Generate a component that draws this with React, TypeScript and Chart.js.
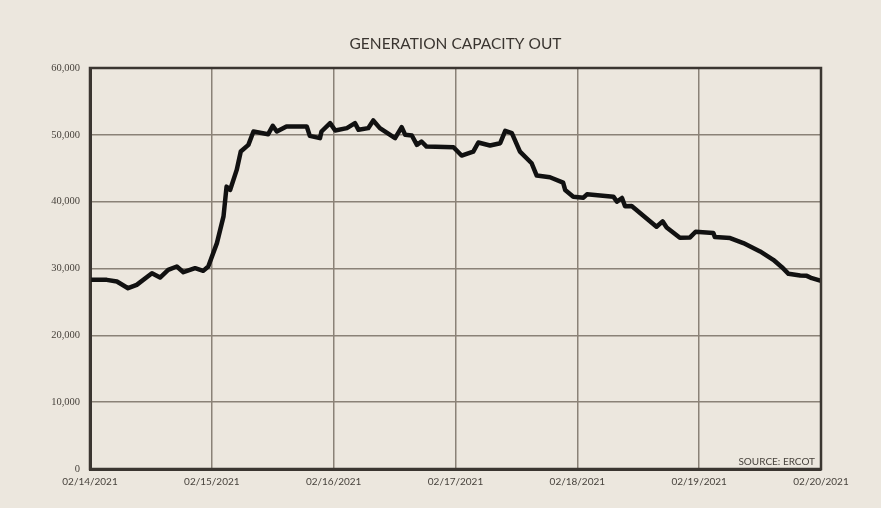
import React, { useEffect, useRef } from "react";
import { Chart, registerables } from "chart.js";

Chart.register(...registerables);

const chartTitle = "GENERATION CAPACITY OUT";
const sourceNote = "SOURCE: ERCOT";
const dateLabels = ["02/14/2021", "02/15/2021", "02/16/2021", "02/17/2021", "02/18/2021", "02/19/2021", "02/20/2021"];

// hours since 02/14/2021 00:00
const hours = [
  0, 3.3, 5.3, 7.5, 9.2, 12.2, 13.8, 15.4, 17.1, 18.4, 20.7, 22.3, 23.3,
  25.0, 26.3, 26.9, 27.6, 28.9, 29.7, 31.2, 32.2, 35.1, 36.0, 36.8, 38.7,
  42.7, 43.3, 45.3, 45.6, 47.3, 48.3, 50.6, 52.2, 52.9, 54.8, 55.8, 57.1,
  60.1, 61.4, 62.1, 63.4, 64.4, 65.3, 66.3, 71.6, 73.2, 75.5, 76.5, 78.8,
  80.8, 81.8, 83.1, 84.7, 87.0, 88.0, 90.6, 93.2, 93.6, 95.2, 97.2, 97.9,
  103.1, 103.8, 104.8, 105.4, 106.7, 111.6, 112.8, 113.6, 116.2, 118.2,
  119.3, 122.8, 123.1, 126.1, 128.7, 132.0, 134.6, 136.3, 137.6, 139.9,
  141.2, 142.2, 144.0,
];

const capacityOut = [
  28300, 28300, 28050, 27050, 27550, 29300, 28650, 29800, 30300, 29450, 30050, 29650, 30300,
  33800, 37800, 42250, 41750, 44750, 47500, 48500, 50500, 50100, 51350, 50500, 51250,
  51250, 49850, 49500, 50500, 51750, 50650, 51000, 51750, 50750, 51000, 52150, 51000,
  49500, 51150, 50000, 49900, 48500, 49000, 48250, 48150, 46900, 47500, 48850, 48400,
  48750, 50600, 50250, 47500, 45750, 43900, 43650, 42850, 41750, 40750, 40600, 41100,
  40750, 40000, 40550, 39300, 39350, 36250, 37050, 36150, 34600, 34650,
  35500, 35300, 34700, 34550, 33800, 32550, 31300, 30200, 29200, 28950,
  28900, 28550, 28150,
];

const BG = "#ece7de";
const GRID = "#8a8277";
const BORDER = "#3b3631";
const TEXT = "#48433d";

const framePlugin = {
  id: "frame",
  afterDraw(chart: any) {
    const { ctx, chartArea } = chart;
    ctx.save();
    ctx.strokeStyle = BORDER;
    ctx.lineWidth = 2.5;
    ctx.strokeRect(chartArea.left, chartArea.top, chartArea.right - chartArea.left, chartArea.bottom - chartArea.top);
    ctx.fillStyle = "#3a3530";
    ctx.font = "15.5px Lato";
    ctx.textAlign = "center";
    ctx.textBaseline = "middle";
    ctx.fillText(chartTitle, (chartArea.left + chartArea.right) / 2, 44);
    ctx.fillStyle = TEXT;
    ctx.font = "10px Lato";
    ctx.textAlign = "right";
    ctx.textBaseline = "bottom";
    ctx.fillText(sourceNote, chartArea.right - 6, chartArea.bottom - 2);
    ctx.restore();
  },
};

export default function App() {
  const ref = useRef<HTMLCanvasElement | null>(null);
  useEffect(() => {
    if (!ref.current) return;
    const chart = new Chart(ref.current, {
      type: "line",
      data: {
        datasets: [
          {
            data: hours.map((h, i) => ({ x: h, y: capacityOut[i] })),
            borderColor: "#111111",
            borderWidth: 4.5,
            borderJoinStyle: "round",
            borderCapStyle: "round",
            pointRadius: 0,
            tension: 0,
            fill: false,
          },
        ],
      },
      options: {
        animation: false,
        responsive: false,
        layout: { padding: { top: 68, right: 60, left: 0, bottom: 0 } },
        plugins: { legend: { display: false }, tooltip: { enabled: false }, title: { display: false } },
        scales: {
          x: {
            type: "linear",
            min: 0,
            max: 144,
            afterFit(scale: any) {
              scale.height = 39;
            },
            ticks: {
              stepSize: 24,
              padding: 7,
              color: TEXT,
              font: { family: "Lato", size: 10 },
              maxRotation: 0,
              callback: (v: any) => dateLabels[Math.round(Number(v) / 24)] ?? "",
            },
            grid: { color: GRID, lineWidth: 1.5, drawTicks: false },
            border: { color: BORDER, width: 3 },
          },
          y: {
            min: 0,
            max: 60000,
            afterFit(scale: any) {
              scale.width = 90;
            },
            ticks: {
              stepSize: 10000,
              padding: 10,
              color: TEXT,
              font: { family: "Liberation Serif", size: 10.5 },
              callback: (v: any) => Number(v).toLocaleString("en-US"),
            },
            grid: { color: GRID, lineWidth: 1.5, drawTicks: false },
            border: { color: BORDER, width: 3 },
          },
        },
      },
      plugins: [framePlugin],
    });
    return () => chart.destroy();
  }, []);
  return (
    <div style={{ position: "fixed", left: 0, top: 0, width: 881, height: 508, background: BG }}>
      <canvas ref={ref} width={881} height={508} style={{ display: "block" }} />
    </div>
  );
}
